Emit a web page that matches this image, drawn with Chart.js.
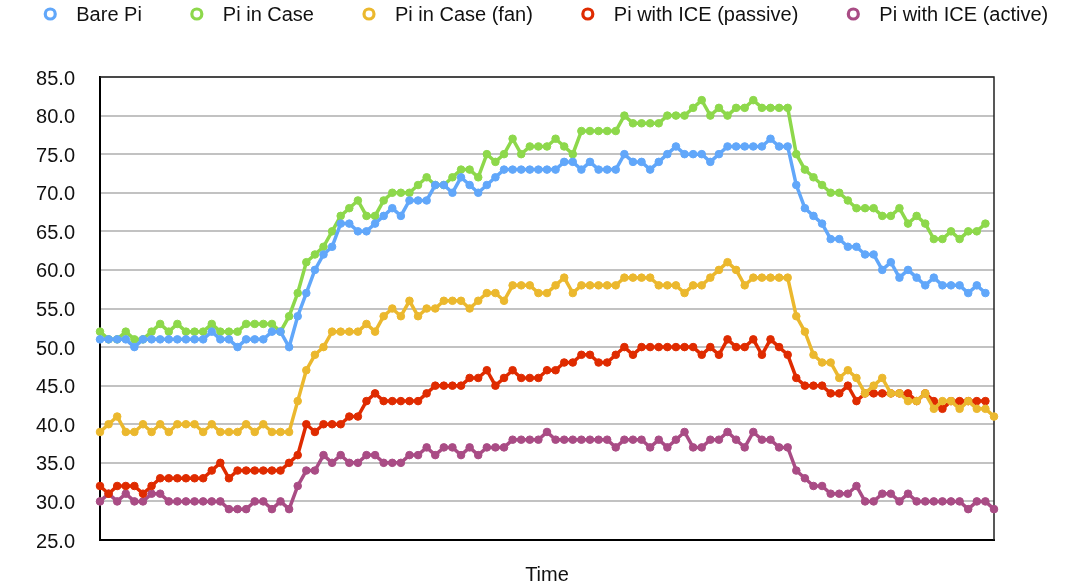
<!DOCTYPE html>
<html><head><meta charset="utf-8">
<script src="https://cdn.jsdelivr.net/npm/chart.js@4.4.1/dist/chart.umd.min.js"></script>
<style>html,body{margin:0;padding:0;background:#fff;}</style>
</head><body>
<canvas id="c" width="1092" height="587"></canvas>
<script>
// x categories: sample number along the time axis (105 samples)
const timeLabels = Array.from({length: 105}, (_, i) => i + 1);
const yTicks = [25, 30, 35, 40, 45, 50, 55, 60, 65, 70, 75, 80, 85];

const barePi = [51,51,51,51,50,51,51,51,51,51, 51,51,51,52,51,51,50,51,51,51, 52,52,50,54,57,60,62,63,66,66,
  65,65,66,67,68,67,69,69,69,71, 71,70,72,71,70,71,72,73,73,73, 73,73,73,73,74,74,73,74,73,73,
  73,75,74,74,73,74,75,76,75,75, 75,74,75,76,76,76,76,76,77,76, 76,71,68,67,66,64,64,63,63,62,
  62,60,61,59,60,59,58,59,58,58, 58,57,58,57];
const piInCase = [52,51,51,52,51,51,52,53,52,53, 52,52,52,53,52,52,52,53,53,53, 53,52,54,57,61,62,63,65,67,68,
  69,67,67,69,70,70,70,71,72,71, 71,72,73,73,72,75,74,75,77,75, 76,76,76,77,76,75,78,78,78,78,
  78,80,79,79,79,79,80,80,80,81, 82,80,81,80,81,81,82,81,81,81, 81,75,73,72,71,70,70,69,68,68,
  68,67,67,68,66,67,66,64,64,65, 64,65,65,66];
const piInCaseFan = [39,40,41,39,39,40,39,40,39,40, 40,40,39,40,39,39,39,40,39,40, 39,39,39,43,47,49,50,52,52,52,
  52,53,52,54,55,54,56,54,55,55, 56,56,56,55,56,57,57,56,58,58, 58,57,57,58,59,57,58,58,58,58,
  58,59,59,59,59,58,58,58,57,58, 58,59,60,61,60,58,59,59,59,59, 59,54,52,49,48,48,46,47,46,44,
  45,46,44,44,43,43,44,42,43,43, 42,43,42,42,41];
const iceP = [32,31,32,32,32,31,32,33,33,33, 33,33,33,34,35,33,34,34,34,34, 34,34,35,36,40,39,40,40,40,41,
  41,43,44,43,43,43,43,43,44,45, 45,45,45,46,46,47,45,46,47,46, 46,46,47,47,48,48,49,49,48,48,
  49,50,49,50,50,50,50,50,50,50, 49,50,49,51,50,50,51,49,51,50, 49,46,45,45,45,44,44,45,43,44,
  44,44,44,44,44,43,44,43,42,43, 43,43,43,43];
const iceA = [30,31,30,31,30,30,31,31,30,30, 30,30,30,30,30,29,29,29,30,30, 29,30,29,32,34,34,36,35,36,35,
  35,36,36,35,35,35,36,36,37,36, 37,37,36,37,36,37,37,37,38,38, 38,38,39,38,38,38,38,38,38,38,
  37,38,38,38,37,38,37,38,39,37, 37,38,38,39,38,37,39,38,38,37, 37,34,33,32,32,31,31,31,32,30,
  30,31,31,30,31,30,30,30,30,30, 30,29,30,30,29];

const seriesNames = ['Bare Pi', 'Pi in Case', 'Pi in Case (fan)', 'Pi with ICE (passive)', 'Pi with ICE (active)'];
const seriesData = [barePi, piInCase, piInCaseFan, iceP, iceA];
const seriesColors = ['#61a7fa', '#8dd84b', '#ebb82e', '#df2b00', '#a94c85'];

const FONT = '"Liberation Sans", Arial, Helvetica, sans-serif';

const legendPlugin = {
  id: 'topLegend',
  afterDraw(chart) {
    const ctx = chart.ctx;
    ctx.save();
    ctx.font = '20px ' + FONT;
    ctx.textBaseline = 'middle';
    ctx.textAlign = 'left';
    const items = chart.data.datasets.map(d => ({text: d.label, color: d.borderColor, w: ctx.measureText(d.label).width}));
    const r = 5, gapMT = 26, gapTM = 55;
    let span = r + 1.5;
    items.forEach((it, i) => { span += gapMT + it.w + (i < items.length - 1 ? gapTM : 0); });
    let cx = chart.width / 2 - span / 2 + r + 1.5;
    const y = 14;
    items.forEach(it => {
      ctx.beginPath();
      ctx.arc(cx, y, r, 0, Math.PI * 2);
      ctx.fillStyle = '#fff';
      ctx.fill();
      ctx.lineWidth = 3.2;
      ctx.strokeStyle = it.color;
      ctx.stroke();
      ctx.fillStyle = '#111';
      ctx.fillText(it.text, cx + gapMT, y + 1);
      cx += gapMT + it.w + gapTM;
    });
    ctx.restore();
  }
};

const framePlugin = {
  id: 'frame',
  beforeDatasetsDraw(chart) {
    const {ctx, chartArea: a} = chart;
    ctx.save();
    ctx.strokeStyle = '#222';
    ctx.lineWidth = 1.5;
    ctx.beginPath();
    ctx.moveTo(a.left, a.top);
    ctx.lineTo(a.right, a.top);
    ctx.lineTo(a.right, a.bottom);
    ctx.stroke();
    ctx.restore();
  }
};

new Chart(document.getElementById('c'), {
  type: 'line',
  data: {
    labels: timeLabels,
    datasets: seriesNames.map((name, i) => ({
      label: name,
      data: seriesData[i],
      borderColor: seriesColors[i],
      backgroundColor: seriesColors[i],
      pointBackgroundColor: seriesColors[i],
      pointBorderColor: seriesColors[i],
      borderWidth: 3.5,
      pointRadius: 3.8,
      pointBorderWidth: 1,
      tension: 0,
      clip: false
    }))
  },
  options: {
    responsive: false,
    animation: false,
    devicePixelRatio: 1,
    layout: { padding: { top: 77, right: 98, left: 0, bottom: 0 } },
    plugins: { legend: { display: false }, tooltip: { enabled: false } },
    scales: {
      x: {
        offset: false,
        grid: { display: false, drawTicks: false },
        border: { color: '#000', width: 2 },
        ticks: { display: false },
        title: { display: true, text: 'Time', color: '#111', font: { size: 20, family: FONT }, padding: 0 },
        afterFit(s) { s.height = 47; }
      },
      y: {
        min: yTicks[0], max: yTicks[yTicks.length - 1],
        afterBuildTicks(s) { s.ticks = yTicks.map(v => ({value: v})); },
        ticks: { callback: v => Number(v).toFixed(1), color: '#111', font: { size: 20, family: FONT }, padding: 25, labelOffset: 2 },
        grid: { color: '#c2c2c2', lineWidth: 2, drawTicks: false },
        border: { color: '#000', width: 2 },
        afterFit(s) { s.width = 100; }
      }
    }
  },
  plugins: [legendPlugin, framePlugin]
});
</script>
</body></html>
